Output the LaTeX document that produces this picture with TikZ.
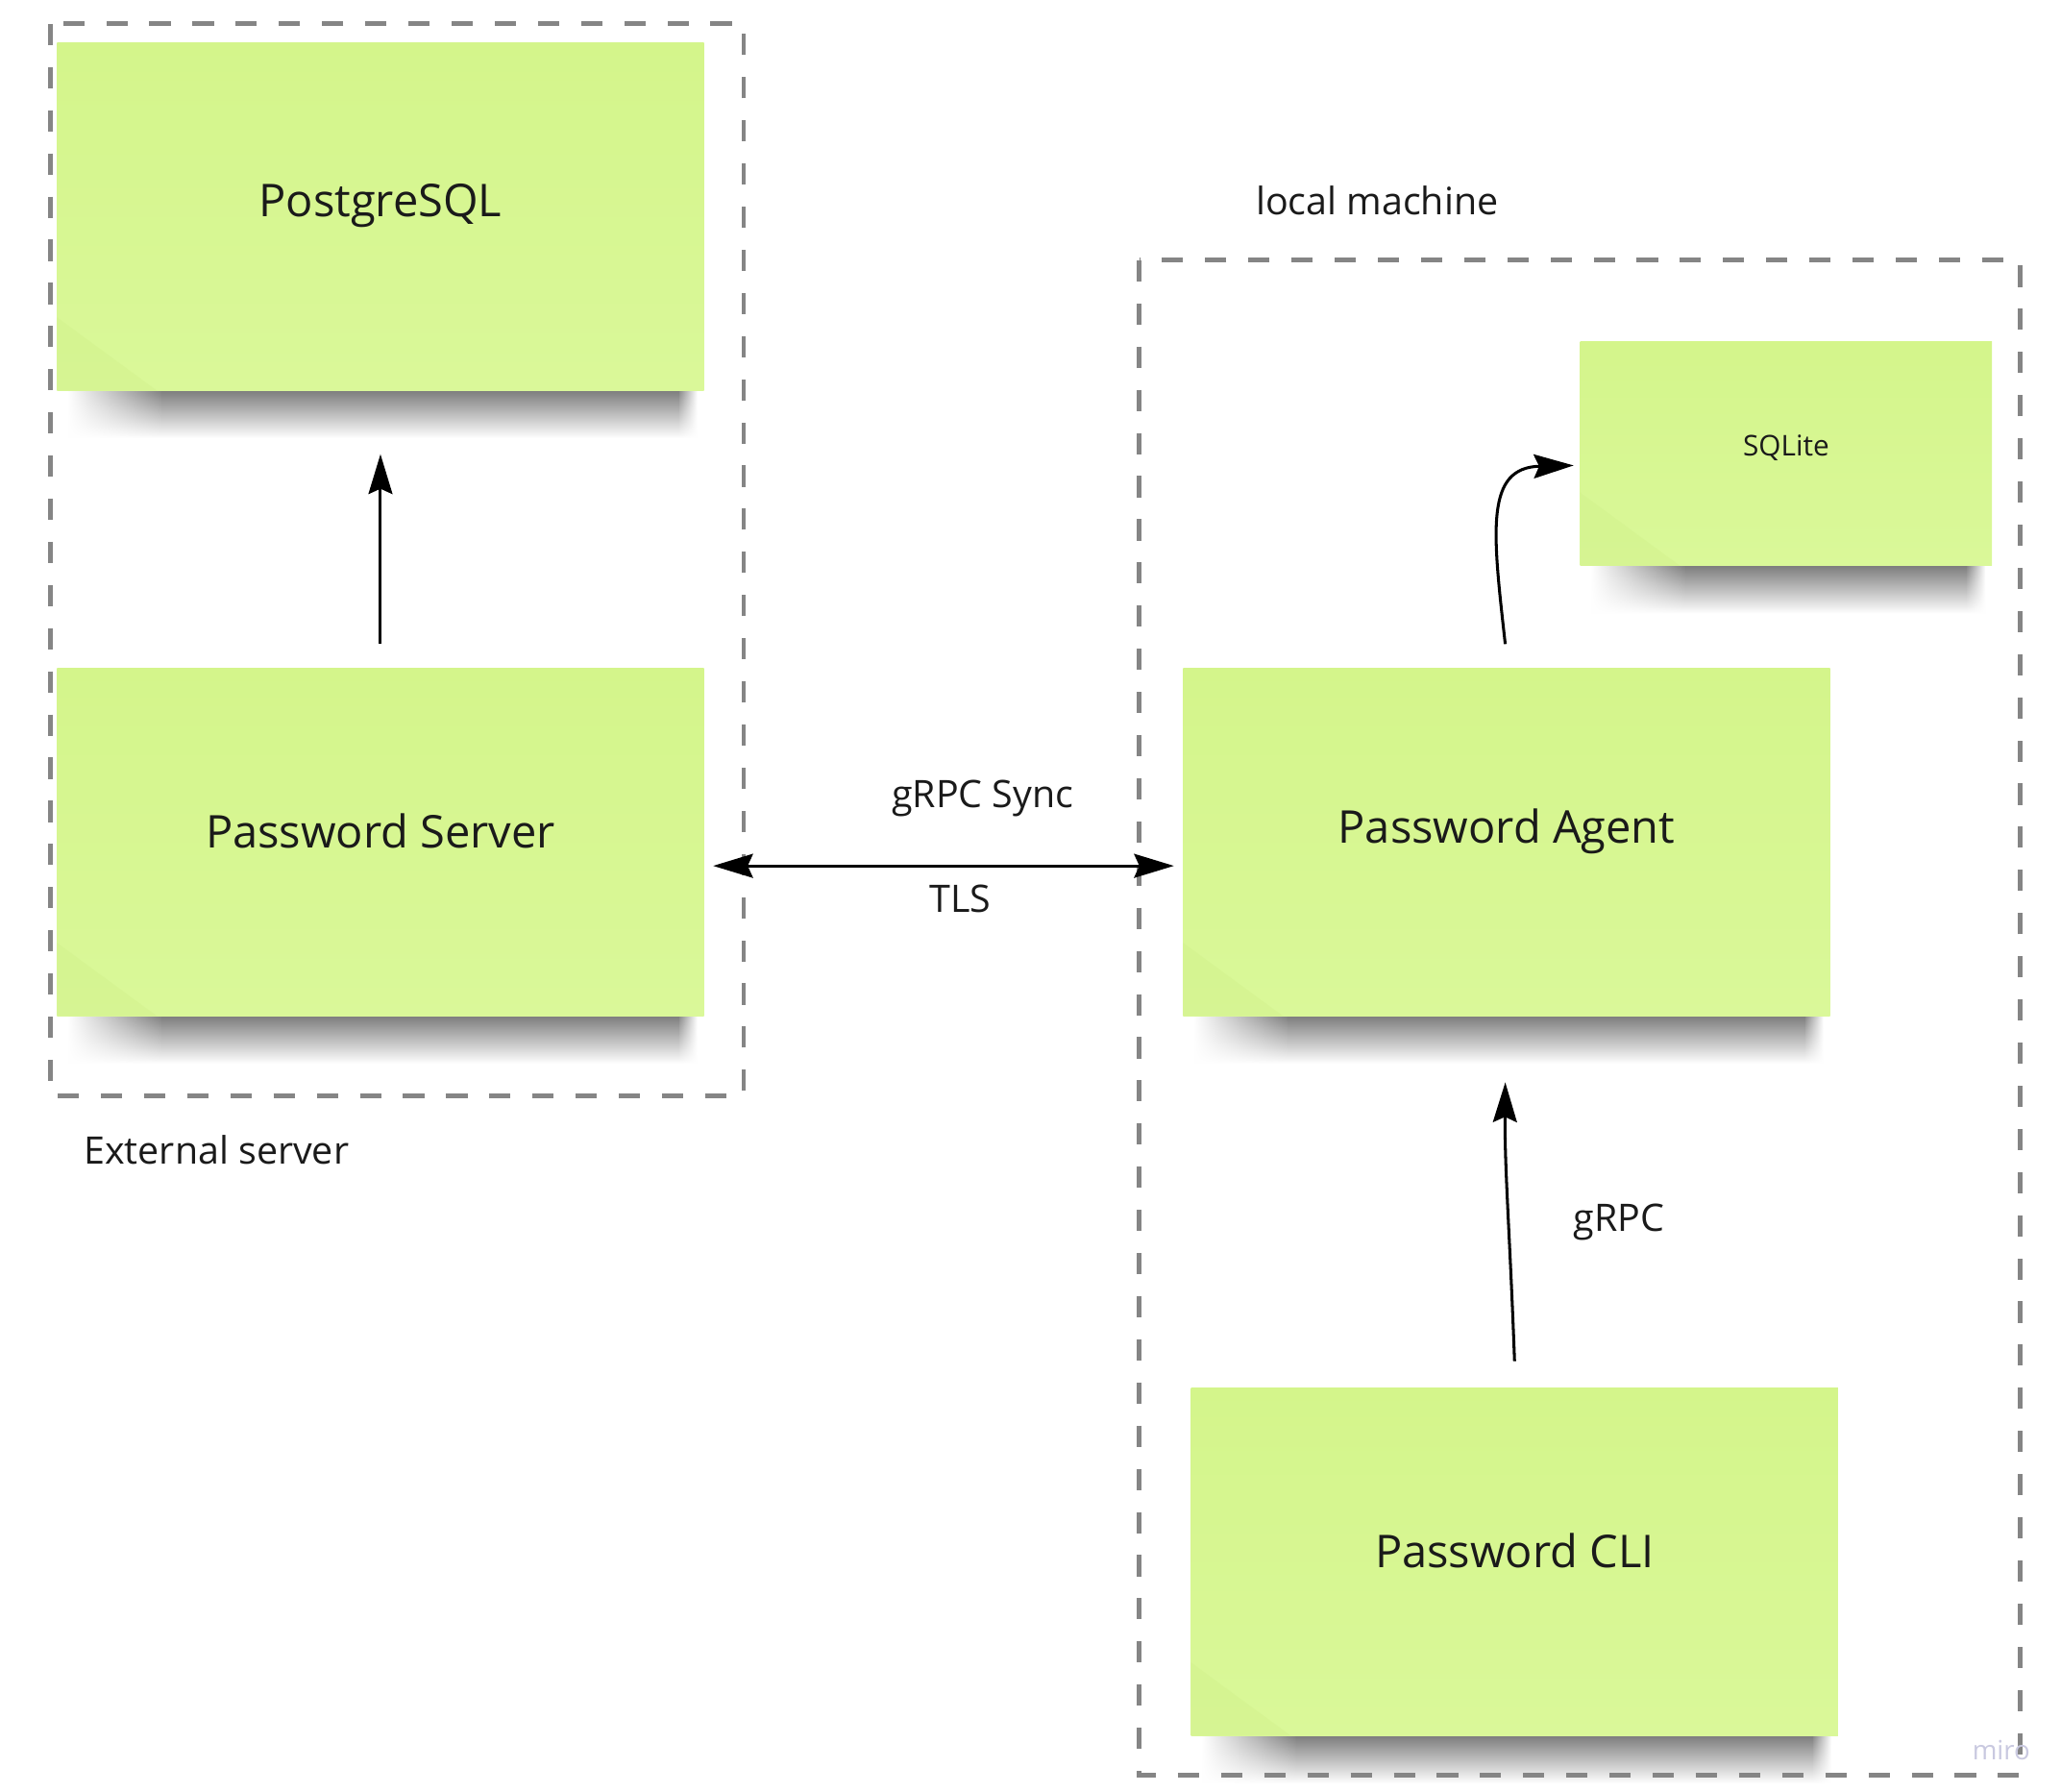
\documentclass[tikz,border=0pt]{standalone}
\usepackage{fontspec}
\setmainfont{Open Sans}
\usetikzlibrary{arrows.meta,calc,fadings}
\definecolor{notetop}{HTML}{D4F58B}
\definecolor{notebot}{HTML}{DAF899}
\definecolor{curl}{HTML}{CFEF88}
\definecolor{dashgray}{HTML}{858585}
\definecolor{txt}{HTML}{1A1A1A}
\definecolor{miroc}{HTML}{C9C9E0}
\definecolor{shtop}{HTML}{767676}
\definecolor{shmid}{HTML}{CBCBCB}
\tikzfading[name=fadeL, left color=transparent!100, right color=transparent!0]
\tikzfading[name=fadeR, left color=transparent!0, right color=transparent!100]
\tikzset{
  note/.style={inner sep=0pt, outer sep=0pt, top color=notetop, bottom color=notebot, draw=none, text=txt},
  bigtxt/.style={font=\fontsize{34}{40}\selectfont},
  midtxt/.style={font=\fontsize{28.5}{34}\selectfont, text=txt},
  smalltxt/.style={font=\fontsize{21.5}{26}\selectfont},
  grp/.style={draw=dashgray, line width=3.5pt, dash pattern=on 16pt off 16.5pt},
  conn/.style={draw=black, line width=2.2pt, -{Stealth[length=30pt, width=18pt, inset=4pt]}},
  bconn/.style={draw=black, line width=2.2pt, {Stealth[length=30pt, width=18pt, inset=4pt]}-{Stealth[length=30pt, width=18pt, inset=4pt]}},
  shd/.style={top color=shtop, middle color=shmid, bottom color=white},
}
\newcommand{\mynote}[8]{%
  % #1 name, #2 x1, #3 y1, #4 x2, #5 y2, #6 style, #7 text, #8 text raise
  \shade[shd] (#2+79,#5-2) rectangle (#4-19,#5+36);
  \shade[shd, path fading=fadeL] (#2+8,#5-2) rectangle (#2+80,#5+36);
  \shade[shd, path fading=fadeR] (#4-20,#5-2) rectangle (#4-5,#5+36);
  \node[note, minimum width=#4-#2, minimum height=#5-#3, anchor=north west] (#1) at (#2,#3) {};
  \fill[curl, opacity=0.35] (#2,#5-55) -- (#2+75,#5) -- (#2,#5) -- cycle;
  \node[#6, text=txt, inner sep=0pt] (#1-label) at ($(#1.center)+(0,-#8)$) {#7};
}
\begin{document}
\begin{tikzpicture}[x=1pt, y=-1pt]
\useasboundingbox (0,0) rectangle (1552,1349);
\fill[white] (0,0) rectangle (1552,1349);

% notes
\mynote{pg}{43}{32}{530}{294}{bigtxt}{PostgreSQL}{8}
\mynote{srv}{43}{503}{530}{765}{bigtxt}{Password Server}{8}
\mynote{sql}{1190}{257}{1500}{426}{smalltxt}{SQLite}{4}
\mynote{agent}{891}{503}{1378}{765}{bigtxt}{Password Agent}{8}
\mynote{cli}{897}{1045}{1384}{1307}{bigtxt}{Password CLI}{8}

% groups
\draw[grp] (38,18) rectangle (560,825);
\draw[grp] (858,196) rectangle (1521,1337);

% labels
\node[midtxt] (lext) at (163,866) {External server};
\node[midtxt] (lloc) at (1037,151) {local machine};
\node[midtxt] (lsync) at (740,601) {gRPC Sync};
\node[midtxt] (ltls) at (723,677) {TLS};
\node[midtxt] (lgrpc) at (1219,920) {gRPC};
\node[font=\fontsize{20}{24}\selectfont, text=miroc] (miro) at (1507,1318) {miro};

% connector end points
\coordinate (pgA) at ($(srv.north)+(0,-18)$);
\coordinate (pgB) at ($(pg.south)+(0,48)$);
\coordinate (syA) at ($(srv.east)+(7,18)$);
\coordinate (syB) at ($(agent.west)+(-7,18)$);
\coordinate (sqA) at ($(agent.north)+(-1,-18)$);
\coordinate (sqB) at ($(sql.west)+(-5,9)$);
\coordinate (clA) at ($(cli.north)+(0,-20)$);
\coordinate (clB) at ($(agent.south)+(-1,50)$);

% connectors
\draw[conn] (pgA) -- (pgB);
\draw[bconn] (syA) -- (syB);
\draw[conn] (sqA) .. controls (1124,400) and (1118,352) .. (sqB);
\draw[conn] (clA) .. controls (1137,930) and (1133,880) .. (clB);
\end{tikzpicture}
\end{document}
